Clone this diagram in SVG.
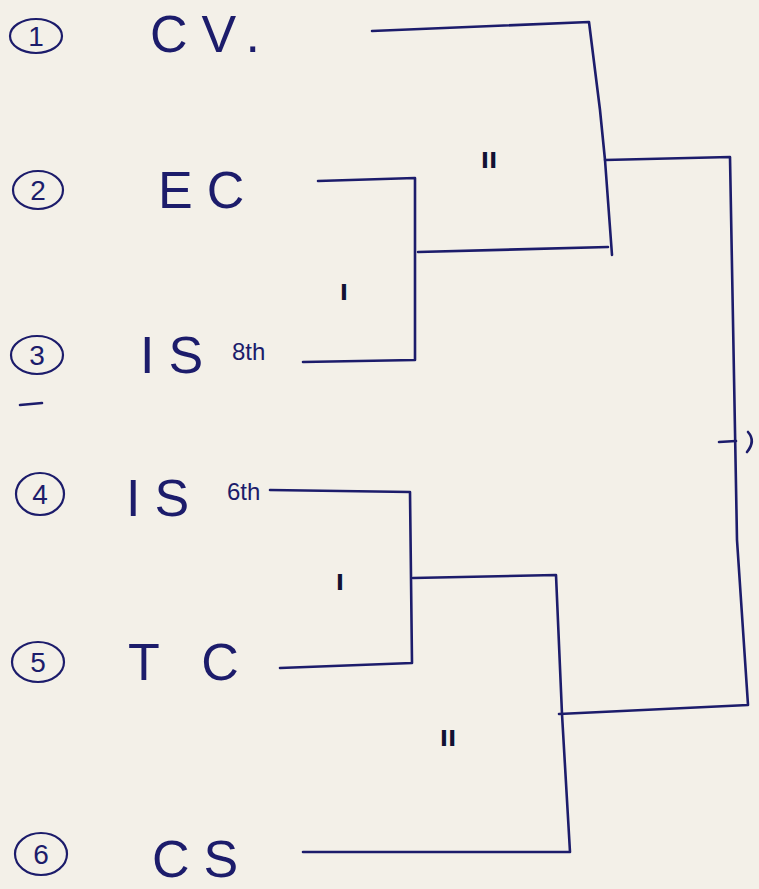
<svg xmlns="http://www.w3.org/2000/svg" width="759" height="889" viewBox="0 0 759 889">
<style>
.bg{fill:#f3f0e8}
.ln{fill:none;stroke:#1c1c6b;stroke-width:2.6;stroke-linecap:round;stroke-linejoin:round}
.num{fill:none;stroke:#1c1c6b;stroke-width:2.2}
.nt{font-family:"Liberation Sans",Arial,sans-serif;font-size:28px;fill:#1c1c6b;text-anchor:middle}
.lb{font-family:"Liberation Sans",Arial,sans-serif;font-size:52px;fill:#1c1c6b;letter-spacing:14px}
.sup{font-family:"Liberation Sans",Arial,sans-serif;font-size:24px;fill:#1c1c6b}
.mk{font-family:"Liberation Sans",Arial,sans-serif;font-size:30px;font-weight:bold;fill:#111133;text-anchor:middle}
</style>
<rect class="bg" x="0" y="0" width="759" height="889"/>
<g id="node1"><ellipse class="num" cx="36" cy="36" rx="26" ry="17"/><text class="nt" x="36" y="46">1</text><text class="lb" x="150" y="52">CV.</text></g>
<g id="node2"><ellipse class="num" cx="38" cy="190" rx="25" ry="19"/><text class="nt" x="38" y="200">2</text><text class="lb" x="158" y="208">EC</text></g>
<g id="node3"><ellipse class="num" cx="37" cy="355" rx="26" ry="19"/><text class="nt" x="37" y="365">3</text><text class="lb" x="140" y="373">IS</text><text class="sup" x="232" y="360">8th</text></g>
<g id="node4"><ellipse class="num" cx="40" cy="494" rx="24" ry="21"/><text class="nt" x="40" y="504">4</text><text class="lb" x="126" y="516">IS</text><text class="sup" x="227" y="500">6th</text></g>
<g id="node5"><ellipse class="num" cx="38" cy="662" rx="26" ry="20"/><text class="nt" x="38" y="672">5</text><text class="lb" x="128" y="680">T C</text></g>
<g id="node6"><ellipse class="num" cx="41" cy="854" rx="26" ry="21"/><text class="nt" x="41" y="864">6</text><text class="lb" x="152" y="877">CS</text></g>
<g id="connectors">
<polyline class="ln" points="372,31 589,22 600,110 605,160 612,255"/>
<polyline class="ln" points="318,181 415,178 415,360 303,362"/>
<polyline class="ln" points="418,252 608,247"/>
<polyline class="ln" points="605,160 730,157 737,540 748,705 559,714"/>
<polyline class="ln" points="270,490 410,492 412,663 280,668"/>
<polyline class="ln" points="413,578 556,575 562,714 570,852 303,852"/>
<line class="ln" x1="719" y1="442" x2="736" y2="441"/>
<path class="ln" d="M748,432 Q756,441 747,452"/>
<line class="ln" x1="20" y1="405" x2="42" y2="403"/>
</g>
<g id="marks">
<text class="mk" x="344" y="300">ı</text>
<text class="mk" x="340" y="590">ı</text>
<text class="mk" x="489" y="168">ıı</text>
<text class="mk" x="448" y="746">ıı</text>
</g>
</svg>
